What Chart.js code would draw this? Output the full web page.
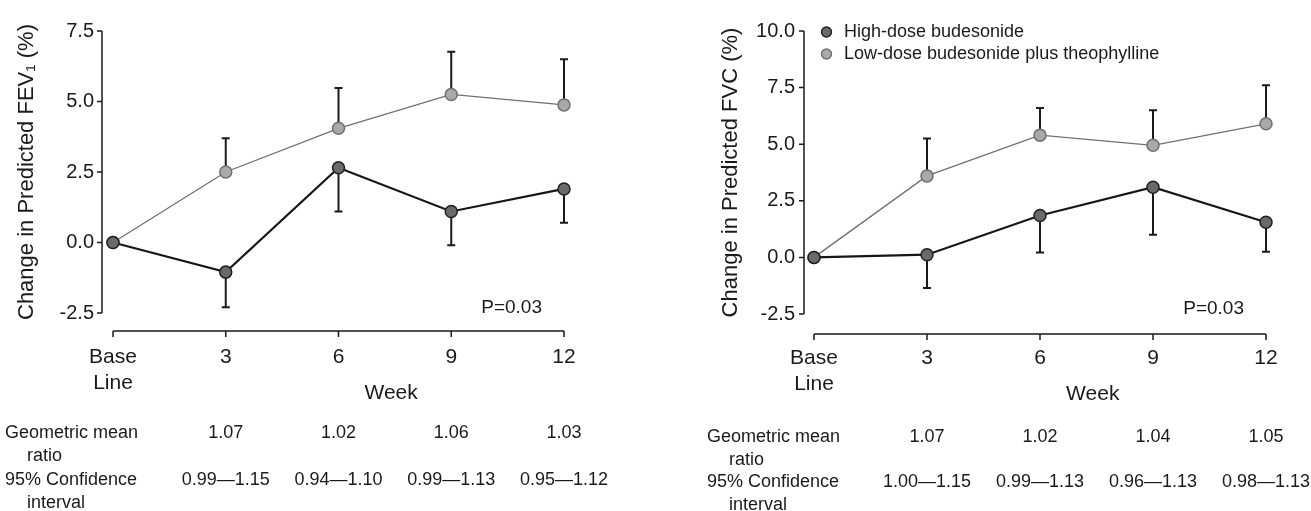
<!DOCTYPE html>
<html>
<head>
<meta charset="utf-8">
<script src="https://cdn.jsdelivr.net/npm/chart.js@4.4.1/dist/chart.umd.min.js"></script>
<style>
  body{margin:0;background:#fff;}
  canvas{position:absolute;top:0;}
  #fev{left:0;}
  #fvc{left:700px;}
</style>
</head>
<body>
<canvas id="fev" width="700" height="511"></canvas>
<canvas id="fvc" width="611" height="511"></canvas>
<script>
var weeks = [0, 3, 6, 9, 12];
var weekLabels = [['Base', 'Line'], '3', '6', '9', '12'];
var highName = 'High-dose budesonide';
var lowName = 'Low-dose budesonide plus theophylline';
var pText = 'P=0.03';

// FEV1 panel
var fevHigh = [0, -1.05, 2.65, 1.1, 1.9];
var fevHighLow = [null, -2.3, 1.1, -0.1, 0.7];
var fevLow = [0, 2.5, 4.05, 5.25, 4.88];
var fevLowUp = [null, 3.7, 5.48, 6.76, 6.5];
var fevRatio = ['1.07', '1.02', '1.06', '1.03'];
var fevCI = ['0.99\u20141.15', '0.94\u20141.10', '0.99\u20141.13', '0.95\u20141.12'];

// FVC panel
var fvcHigh = [0, 0.12, 1.85, 3.1, 1.55];
var fvcHighLow = [null, -1.35, 0.22, 1.0, 0.25];
var fvcLow = [0, 3.6, 5.4, 4.95, 5.9];
var fvcLowUp = [null, 5.25, 6.6, 6.5, 7.6];
var fvcRatio = ['1.07', '1.02', '1.04', '1.05'];
var fvcCI = ['1.00\u20141.15', '0.99\u20141.13', '0.96\u20141.13', '0.98\u20141.13'];

var fuente = '"Liberation Sans", Arial, sans-serif';
var tinta = '#1a1a1a';
Chart.defaults.font.family = fuente;
Chart.defaults.color = tinta;

function puntos(vals){
    return weeks.map(function(w, i){ return {x: w, y: vals[i]}; });
}

// axes, error bars, table and notes
var extras = {
    id: 'extras',
    beforeDatasetsDraw: function(chart, args, opt){
        var ctx = chart.ctx, x = chart.scales.x, y = chart.scales.y, a = chart.chartArea;
        ctx.save();
        ctx.strokeStyle = tinta;
        ctx.lineWidth = 1.5;
        ctx.beginPath();
        var ax = a.left - opt.yGap;
        ctx.moveTo(ax, y.getPixelForValue(y.max));
        ctx.lineTo(ax, y.getPixelForValue(y.min));
        y.ticks.forEach(function(t){
            var py = y.getPixelForValue(t.value);
            ctx.moveTo(ax - 5, py);
            ctx.lineTo(ax, py);
        });
        var ay = a.bottom + opt.xGap;
        ctx.moveTo(x.getPixelForValue(x.min), ay);
        ctx.lineTo(x.getPixelForValue(x.max), ay);
        x.ticks.forEach(function(t){
            var px = x.getPixelForValue(t.value);
            ctx.moveTo(px, ay);
            ctx.lineTo(px, ay + 6);
        });
        ctx.stroke();

        ctx.lineWidth = 2;
        ctx.beginPath();
        opt.bars.forEach(function(b){
            for (var i = 0; i < weeks.length; i++){
                if (b.ends[i] == null) continue;
                var px = x.getPixelForValue(weeks[i]);
                var p0 = y.getPixelForValue(b.vals[i]);
                var p1 = y.getPixelForValue(b.ends[i]);
                ctx.moveTo(px, p0);
                ctx.lineTo(px, p1);
                ctx.moveTo(px - 4, p1);
                ctx.lineTo(px + 4, p1);
            }
        });
        ctx.stroke();
        ctx.restore();
    },
    afterDraw: function(chart, args, opt){
        var ctx = chart.ctx, x = chart.scales.x, y = chart.scales.y, a = chart.chartArea;
        ctx.save();
        ctx.fillStyle = tinta;
        ctx.textBaseline = 'middle';

        ctx.font = '19px ' + fuente;
        ctx.textAlign = 'right';
        ctx.fillText(pText, a.right - 22, y.getPixelForValue(y.min) - 5);

        ctx.font = '21px ' + fuente;
        ctx.textAlign = 'center';
        ctx.fillText('Week', x.getPixelForValue(opt.weekAt), a.bottom + 80);

        ctx.font = '18px ' + fuente;
        opt.table.forEach(function(row, r){
            var ry = opt.rowY[r];
            ctx.textAlign = 'left';
            ctx.fillText(row.label, opt.rowX, ry);
            ctx.fillText(row.sub, opt.rowX + 22, ry + 23);
            ctx.textAlign = 'center';
            row.values.forEach(function(v, i){
                ctx.fillText(v, x.getPixelForValue(weeks[i + 1]), ry);
            });
        });
        ctx.restore();
    }
};

function panel(id, cfg){
    return new Chart(document.getElementById(id), {
        type: 'line',
        data: {
            datasets: [{
                label: highName,
                data: puntos(cfg.high),
                borderColor: '#161616',
                borderWidth: 2.2,
                pointBackgroundColor: '#6a6a6a',
                pointBorderColor: '#202020',
                pointBorderWidth: 1.5,
                pointRadius: 6,
                clip: false
            }, {
                label: lowName,
                data: puntos(cfg.low),
                borderColor: '#707070',
                borderWidth: 1.3,
                pointBackgroundColor: '#a9a9a9',
                pointBorderColor: '#707070',
                pointBorderWidth: 1.5,
                pointRadius: 6,
                clip: false
            }]
        },
        options: {
            responsive: false,
            devicePixelRatio: 1,
            animation: false,
            layout: {padding: {top: cfg.top, right: cfg.right, left: 0, bottom: 0}},
            scales: {
                x: {
                    type: 'linear',
                    min: 0,
                    max: 12,
                    border: {display: false},
                    grid: {display: false, drawTicks: false},
                    afterFit: function(s){ s.height = cfg.xHeight; },
                    ticks: {
                        stepSize: 3,
                        padding: 32,
                        font: {size: 21},
                        callback: function(v){ return weekLabels[weeks.indexOf(v)]; }
                    }
                },
                y: {
                    min: cfg.yMin,
                    max: cfg.yMax,
                    border: {display: false},
                    grid: {display: false, drawTicks: false},
                    afterFit: function(s){ s.width = cfg.yWidth; },
                    ticks: {
                        stepSize: 2.5,
                        padding: 19,
                        font: {size: 20},
                        callback: function(v){ return v.toFixed(1); }
                    },
                    title: {
                        display: true,
                        text: cfg.yTitle,
                        font: {size: 22},
                        padding: {top: cfg.titlePad, bottom: 0}
                    }
                }
            },
            plugins: {
                tooltip: {enabled: false},
                legend: {
                    display: cfg.legend,
                    position: 'chartArea',
                    align: 'start',
                    title: {display: true, text: '', font: {size: 10}, padding: {top: 7, bottom: 0}},
                    labels: {
                        usePointStyle: true,
                        pointStyle: 'circle',
                        boxWidth: 17,
                        boxHeight: 7,
                        padding: 4,
                        font: {size: 18},
                        color: tinta
                    }
                },
                extras: {
                    yGap: cfg.yGap,
                    xGap: cfg.xGap,
                    weekAt: 7.4,
                    rowX: cfg.rowX,
                    rowY: cfg.rowY,
                    bars: [{vals: cfg.high, ends: cfg.highEnd}, {vals: cfg.low, ends: cfg.lowEnd}],
                    table: [
                        {label: 'Geometric mean', sub: 'ratio', values: cfg.ratio},
                        {label: '95% Confidence', sub: 'interval', values: cfg.ci}
                    ]
                }
            }
        },
        plugins: [extras]
    });
}

panel('fev', {
    high: fevHigh, highEnd: fevHighLow, low: fevLow, lowEnd: fevLowUp,
    ratio: fevRatio, ci: fevCI,
    yMin: -2.5, yMax: 7.5, yTitle: 'Change in Predicted FEV\u2081 (%)',
    top: 23, right: 136, xHeight: 198, yWidth: 113, titlePad: 14,
    yGap: 11, xGap: 18, rowX: 5, rowY: [433, 480], legend: false
});

panel('fvc', {
    high: fvcHigh, highEnd: fvcHighLow, low: fvcLow, lowEnd: fvcLowUp,
    ratio: fvcRatio, ci: fvcCI,
    yMin: -2.5, yMax: 10, yTitle: 'Change in Predicted FVC (%)',
    top: 17, right: 45, xHeight: 197, yWidth: 114, titlePad: 18,
    yGap: 10, xGap: 20, rowX: 7, rowY: [437, 482], legend: true
});
</script>
</body>
</html>
